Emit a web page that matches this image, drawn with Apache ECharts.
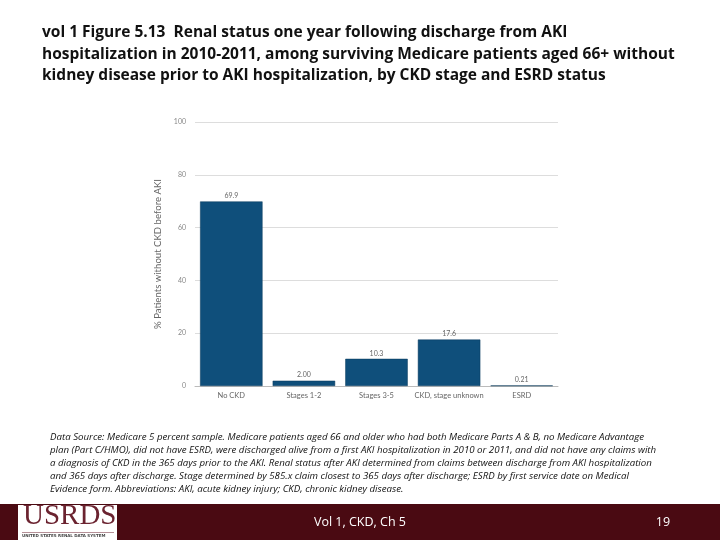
<!DOCTYPE html>
<html><head><meta charset="utf-8">
<script src="https://cdn.jsdelivr.net/npm/echarts@6/dist/echarts.min.js"></script>
<style>html,body{margin:0;padding:0;background:#fff}#c{width:720px;height:540px}</style>
</head><body><div id="c"></div>
<script>
const categories = ["No CKD", "Stages 1-2", "Stages 3-5", "CKD, stage unknown", "ESRD"];
const values = [69.9, 2.00, 10.3, 17.6, 0.21];
const valueLabels = ["69.9", "2.00", "10.3", "17.6", "0.21"];
const yTicks = [0, 20, 40, 60, 80, 100];

const titleText = "vol 1 Figure 5.13  Renal status one year following discharge from AKI\nhospitalization in 2010-2011, among surviving Medicare patients aged 66+ without\nkidney disease prior to AKI hospitalization, by CKD stage and ESRD status";
const noteText = "Data Source: Medicare 5 percent sample. Medicare patients aged 66 and older who had both Medicare Parts A & B, no Medicare Advantage\nplan (Part C/HMO), did not have ESRD, were discharged alive from a first AKI hospitalization in 2010 or 2011, and did not have any claims with\na diagnosis of CKD in the 365 days prior to the AKI. Renal status after AKI determined from claims between discharge from AKI hospitalization\nand 365 days after discharge. Stage determined by 585.x claim closest to 365 days after discharge; ESRD by first service date on Medical\nEvidence form. Abbreviations: AKI, acute kidney injury; CKD, chronic kidney disease.";

const chart = echarts.init(document.getElementById('c'));
chart.setOption({
  animation: false,
  backgroundColor: '#fff',
  grid: {left: 195, right: 162, top: 122, bottom: 154, containLabel: false},
  xAxis: {
    type: 'category', data: categories,
    axisLine: {lineStyle: {color: '#bbb'}}, axisTick: {show: false},
    axisLabel: {color: '#666', fontSize: 7.5, fontFamily: 'Lato', margin: 6, interval: 0}
  },
  yAxis: {
    type: 'value', min: yTicks[0], max: yTicks[yTicks.length-1], interval: 20,
    name: '% Patients without CKD before AKI', nameLocation: 'middle', nameGap: 26,
    nameTextStyle: {color: '#666', fontSize: 9.6, fontFamily: 'Lato'},
    axisLine: {show: false}, axisTick: {show: false},
    axisLabel: {color: '#888', fontSize: 7, fontFamily: 'Lato', margin: 9},
    splitLine: {lineStyle: {color: '#ddd', width: 1}}
  },
  series: [{
    type: 'bar', data: values, barCategoryGap: '14%',
    itemStyle: {color: '#0f4f7b', borderColor: '#0a3a5c', borderWidth: 0.5},
    label: {show: true, position: 'top', distance: 2, color: '#666', fontSize: 7, fontFamily: 'Lato',
      formatter: p => valueLabels[p.dataIndex]}
  }],
  graphic: [
    {type: 'text', left: 42, top: 22, style: {text: titleText, font: 'bold 15.5px "Open Sans"', fill: '#111', lineHeight: 21.5}},
    {type: 'text', left: 50, top: 431, style: {text: noteText, font: 'italic 9.7px "Open Sans"', fill: '#111', lineHeight: 13}},
    {type: 'rect', shape: {x: 0, y: 504, width: 720, height: 36}, style: {fill: '#4a0a12'}},
    {type: 'rect', shape: {x: 18, y: 505, width: 99, height: 35}, style: {fill: '#fff'}},
    {type: 'text', left: 23, top: 502, style: {text: 'USRDS', font: '29px "Liberation Serif"', fill: '#6b2330'}},
    {type: 'rect', shape: {x: 22, y: 532, width: 92, height: 0.6}, style: {fill: '#6b2330'}},
    {type: 'text', left: 22, top: 534, style: {text: 'UNITED STATES RENAL DATA SYSTEM', font: 'bold 4px "DejaVu Sans"', fill: '#444'}},
    {type: 'text', x: 360, y: 522, style: {text: 'Vol 1, CKD, Ch 5', font: '12.5px "Open Sans"', fill: '#fff', align: 'center', verticalAlign: 'middle'}},
    {type: 'text', x: 663, y: 522, style: {text: '19', font: '12.5px "Open Sans"', fill: '#fff', align: 'center', verticalAlign: 'middle'}}
  ]
});
</script></body></html>
